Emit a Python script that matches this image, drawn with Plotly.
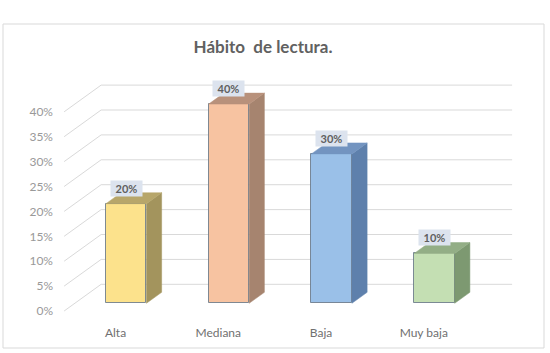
import plotly.graph_objects as go

# ---- data ----
categories = ["Alta", "Mediana", "Baja", "Muy baja"]
values = [20, 40, 30, 10]
tick_values = [0, 5, 10, 15, 20, 25, 30, 35, 40]
tick_labels = ["0%", "5%", "10%", "15%", "20%", "25%", "30%", "35%", "40%"]

# ---- styles ----
front_colors = ["#FCE28C", "#F7C3A1", "#9AC0E8", "#C4DFB3"]
side_colors = ["#A3945D", "#A6846F", "#5E80AC", "#7D9971"]
top_colors = ["#B7A66A", "#B8917B", "#7394C0", "#93AE86"]
grid_color = "#D9D9D9"

# pseudo-3D geometry in data units
WALL_DX, WALL_DY = 0.36, 5.36      # depth of the back wall
BAR_X0, BAR_Y0 = 0.104, 1.55       # front face of bars (offset from front plane)
BAR_DX, BAR_DY = 0.148, 2.2        # depth of each bar
BAR_W = 0.394

PX_X = 102.75
PX_Y = 4.98
L, R, T, B = 62, 6, 60, 39
xmin = (62 - 115.5) / PX_X
xmax = (544 - 115.5) / PX_X
ymax = (311 - 60) / PX_Y
ymin = -(314 - 311) / PX_Y

xs = list(range(len(categories)))

fig = go.Figure()

# back wall gridlines + side-wall diagonals (below all traces)
for v in tick_values:
    fig.add_shape(type="line", xref="x", yref="y", layer="below",
                  x0=-0.5 + WALL_DX, x1=3.5 + WALL_DX,
                  y0=v + WALL_DY, y1=v + WALL_DY,
                  line=dict(color=grid_color, width=1))
    fig.add_shape(type="line", xref="x", yref="y", layer="below",
                  x0=-0.5, x1=-0.5 + WALL_DX, y0=v, y1=v + WALL_DY,
                  line=dict(color=grid_color, width=1))

# front faces
fig.add_trace(go.Bar(
    x=[i + BAR_X0 for i in xs], y=values, base=BAR_Y0, width=BAR_W,
    marker=dict(color=front_colors,
                line=dict(color="rgba(105,120,135,0.85)", width=1)),
    hoverinfo="skip", showlegend=False))

# side and top faces of bars
for i, v in enumerate(values):
    xl = i + BAR_X0 - BAR_W / 2
    xr = i + BAR_X0 + BAR_W / 2
    b = BAR_Y0
    t = BAR_Y0 + v
    fig.add_trace(go.Scatter(
        x=[xr, xr + BAR_DX, xr + BAR_DX, xr, xr],
        y=[b, b + BAR_DY, t + BAR_DY, t, b],
        fill="toself", fillcolor=side_colors[i], mode="lines",
        line=dict(color=side_colors[i], width=0.5),
        hoverinfo="skip", showlegend=False))
    fig.add_trace(go.Scatter(
        x=[xl, xl + BAR_DX, xr + BAR_DX, xr, xl],
        y=[t, t + BAR_DY, t + BAR_DY, t, t],
        fill="toself", fillcolor=top_colors[i], mode="lines",
        line=dict(color=top_colors[i], width=0.5),
        hoverinfo="skip", showlegend=False))

# value labels
for i, v in enumerate(values):
    fig.add_annotation(
        x=i + BAR_X0, y=BAR_Y0 + v, text=f"<b>{v}%</b>",
        showarrow=False, yanchor="bottom", yshift=7,
        width=31, height=15, align="center", valign="middle",
        bgcolor="#DCE3EE", borderpad=0,
        font=dict(family="Lato", size=11, color="#5F5F5F"))

# chart border
fig.add_shape(type="rect", xref="paper", yref="paper",
              x0=(3 - L) / 482, x1=(544 - L) / 482,
              y0=(311 + 3 - 348) / 254, y1=(314 - 24) / 254,
              line=dict(color="#D9D9D9", width=1), layer="below")

fig.update_layout(
    width=550, height=353,
    margin=dict(l=L, r=R, t=T, b=B),
    paper_bgcolor="white", plot_bgcolor="white",
    title=dict(text="<b>Hábito\u00a0 de lectura.</b>",
               x=263 / 550, xanchor="center", y=1 - 47 / 353, yanchor="middle",
               font=dict(family="Lato", size=17, color="#616161")),
    xaxis=dict(range=[xmin, xmax], tickvals=xs, ticktext=categories,
               showgrid=False, zeroline=False, showline=False,
               ticks="", ticklabelstandoff=10,
               tickfont=dict(family="Lato", size=12, color="#707070")),
    yaxis=dict(range=[ymin, ymax], tickvals=tick_values, ticktext=tick_labels,
               showgrid=False, zeroline=False, showline=False,
               ticks="", ticklabelstandoff=8,
               tickfont=dict(family="Lato", size=12, color="#999999")),
    bargap=0,
)

fig.write_html("out.html")
